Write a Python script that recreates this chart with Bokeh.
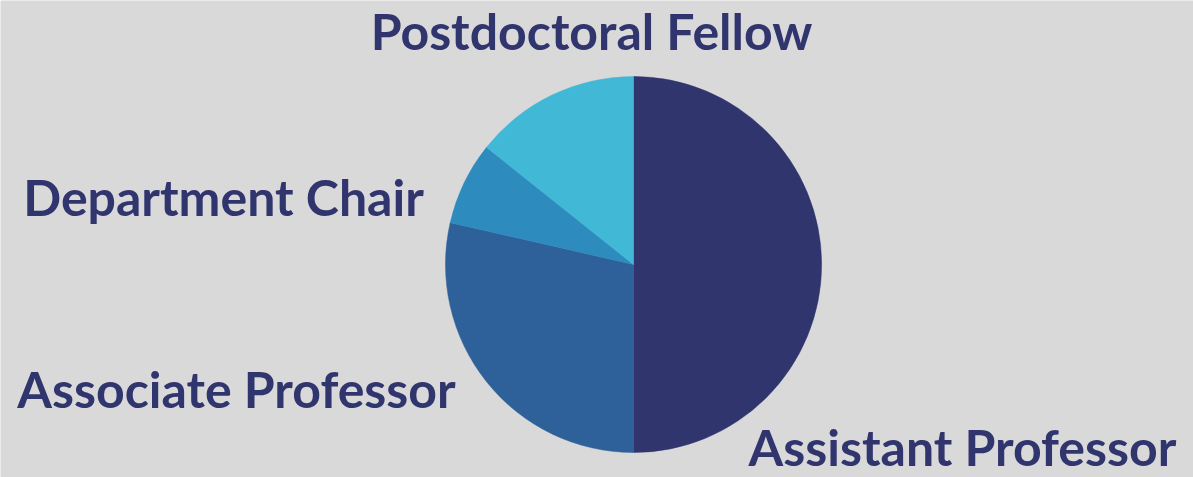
import math
from bokeh.plotting import figure
from bokeh.models import Range1d, ColumnDataSource
from bokeh.core.properties import value
from bokeh.embed import file_html
from bokeh.resources import INLINE

categories = ["Assistant Professor", "Associate Professor", "Department Chair", "Postdoctoral Fellow"]
counts = [7, 4, 1, 2]
colors = ["#31356E", "#2E6099", "#2E8BBE", "#41B8D5"]

BG = "#D9D9D9"
W, H = 1193, 477

total = sum(counts)
starts, ends = [], []
cum = 0
for c in counts:
    starts.append(math.pi / 2 - 2 * math.pi * cum / total)
    cum += c
    ends.append(math.pi / 2 - 2 * math.pi * cum / total)

src = ColumnDataSource(dict(cat=categories, start=starts, end=ends, color=colors))

p = figure(width=W, height=H, output_backend="svg", toolbar_location=None,
           x_range=Range1d(0, W), y_range=Range1d(0, H),
           min_border=0, background_fill_color=BG, border_fill_color=BG)
p.axis.visible = False
p.grid.visible = False
p.outline_line_color = None

cx, cy, r = 633, H - 264, 188
p.wedge(x=cx, y=cy, radius=r, start_angle="start", end_angle="end", direction="clock",
        fill_color="color", line_color="color", line_width=0.5, source=src)

# label anchor positions (screen pixels from top-left)
lab_x = [962, 236, 223, 591]
lab_y = [446, 388, 196, 30]
lsrc = ColumnDataSource(dict(x=lab_x, y=[H - v for v in lab_y], t=categories))
p.text(x="x", y="y", text="t", source=lsrc, text_align="center", text_baseline="alphabetic",
       text_font=value("Lato"), text_font_style="bold", text_font_size="50px",
       text_color="#31356E")

html = file_html(p, INLINE)
html = html.replace("<body>", '<body style="background:%s;">' % BG, 1)
open("out.html", "w").write(html)
